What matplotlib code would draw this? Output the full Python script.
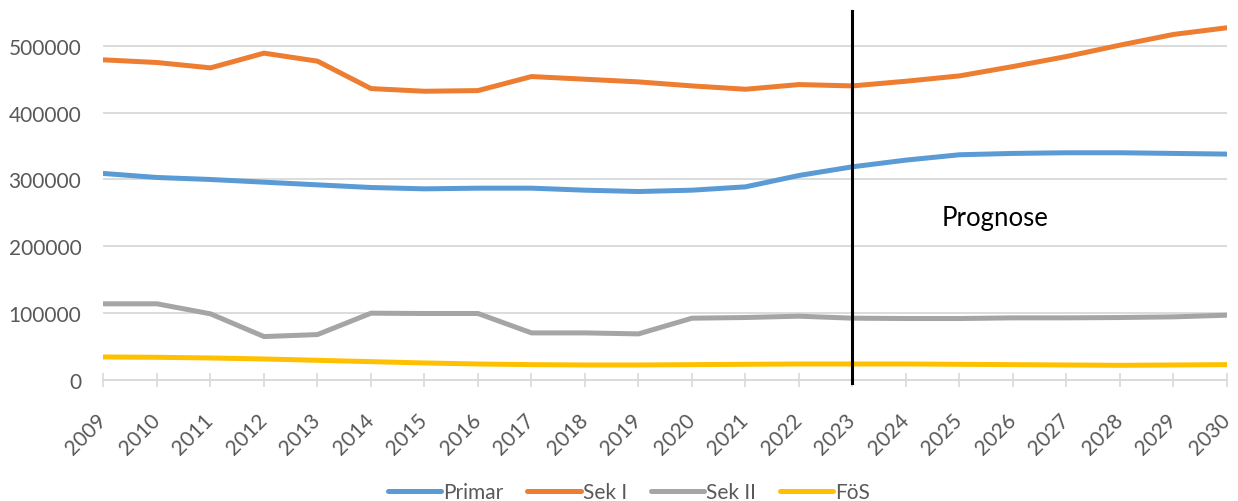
import matplotlib.pyplot as plt

plt.rcParams['font.family'] = ['Lato', 'DejaVu Sans']

# data
years = list(range(2009, 2031))
primar = [309000, 303000, 300000, 296000, 292000, 288000, 286000, 287000, 287000, 284000, 282000,
          284000, 289000, 306000, 319000, 329000, 337000, 339000, 340000, 340000, 339000, 338000]
sek_1 = [479000, 475000, 467000, 489000, 477000, 436000, 432000, 433000, 454000, 450000, 446000,
         440000, 435000, 442000, 440000, 447000, 455000, 469000, 484000, 501000, 517000, 527000]
sek_2 = [114000, 114000, 99000, 65000, 68000, 100000, 99500, 99500, 70500, 70500, 69000,
         92500, 93500, 95500, 92500, 92000, 92000, 93000, 93000, 93500, 94500, 97000]
foes = [34500, 34000, 33000, 31500, 29500, 27500, 25500, 24000, 23000, 22500, 22500,
        23000, 23500, 24000, 24000, 24000, 23500, 23000, 22500, 22000, 22500, 23000]
series_names = ['Primar', 'Sek I', 'Sek II', 'FöS']
series_colors = ['#5B9BD5', '#ED7D31', '#A5A5A5', '#FFC000']
prognose_year = 2023
y_ticks = [0, 100000, 200000, 300000, 400000, 500000]

text_grey = '#595959'
grid_grey = '#D9D9D9'

fig = plt.figure(figsize=(12.38, 5.02), dpi=100)
ax = fig.add_axes([0.0836, 0.241, 0.9075, 0.739])

for name, vals, col in zip(series_names, [primar, sek_1, sek_2, foes], series_colors):
    ax.plot(years, vals, color=col, lw=3.6, label=name,
            solid_joinstyle='round', solid_capstyle='round', zorder=3)

# forecast divider
ax.plot([prognose_year, prognose_year], [-4500, 552000], color='black', lw=2.2,
        clip_on=False, zorder=5)
ax.text(2025.66, 243500, 'Prognose', fontsize=18.5, color='black', ha='center', va='center')

ax.set_xlim(years[0], years[-1])
ax.set_ylim(0, 555000)
ax.set_yticks(y_ticks)
ax.set_yticklabels([str(v) for v in y_ticks])
ax.set_xticks(years)
ax.set_xticklabels([str(y) for y in years], rotation=45, ha='right', va='center',
                   rotation_mode='anchor')

ax.grid(axis='y', color=grid_grey, lw=1.3, zorder=0)
ax.set_axisbelow(True)
for s in ['top', 'right', 'left']:
    ax.spines[s].set_visible(False)
ax.spines['bottom'].set_color(grid_grey)
ax.spines['bottom'].set_linewidth(1.3)

ax.tick_params(axis='y', length=0, pad=16, labelsize=15, labelcolor=text_grey)
ax.tick_params(axis='x', direction='inout', length=10, width=1.2, color=grid_grey,
               pad=21, labelsize=15, labelcolor=text_grey)

fig.legend(loc='center', bbox_to_anchor=(0.508, 0.018), ncol=4, frameon=False,
           fontsize=15, labelcolor=text_grey, handlelength=2.55, handletextpad=0.1,
           columnspacing=1.15, borderaxespad=0, borderpad=0)

fig.savefig('out.png', dpi=100)
